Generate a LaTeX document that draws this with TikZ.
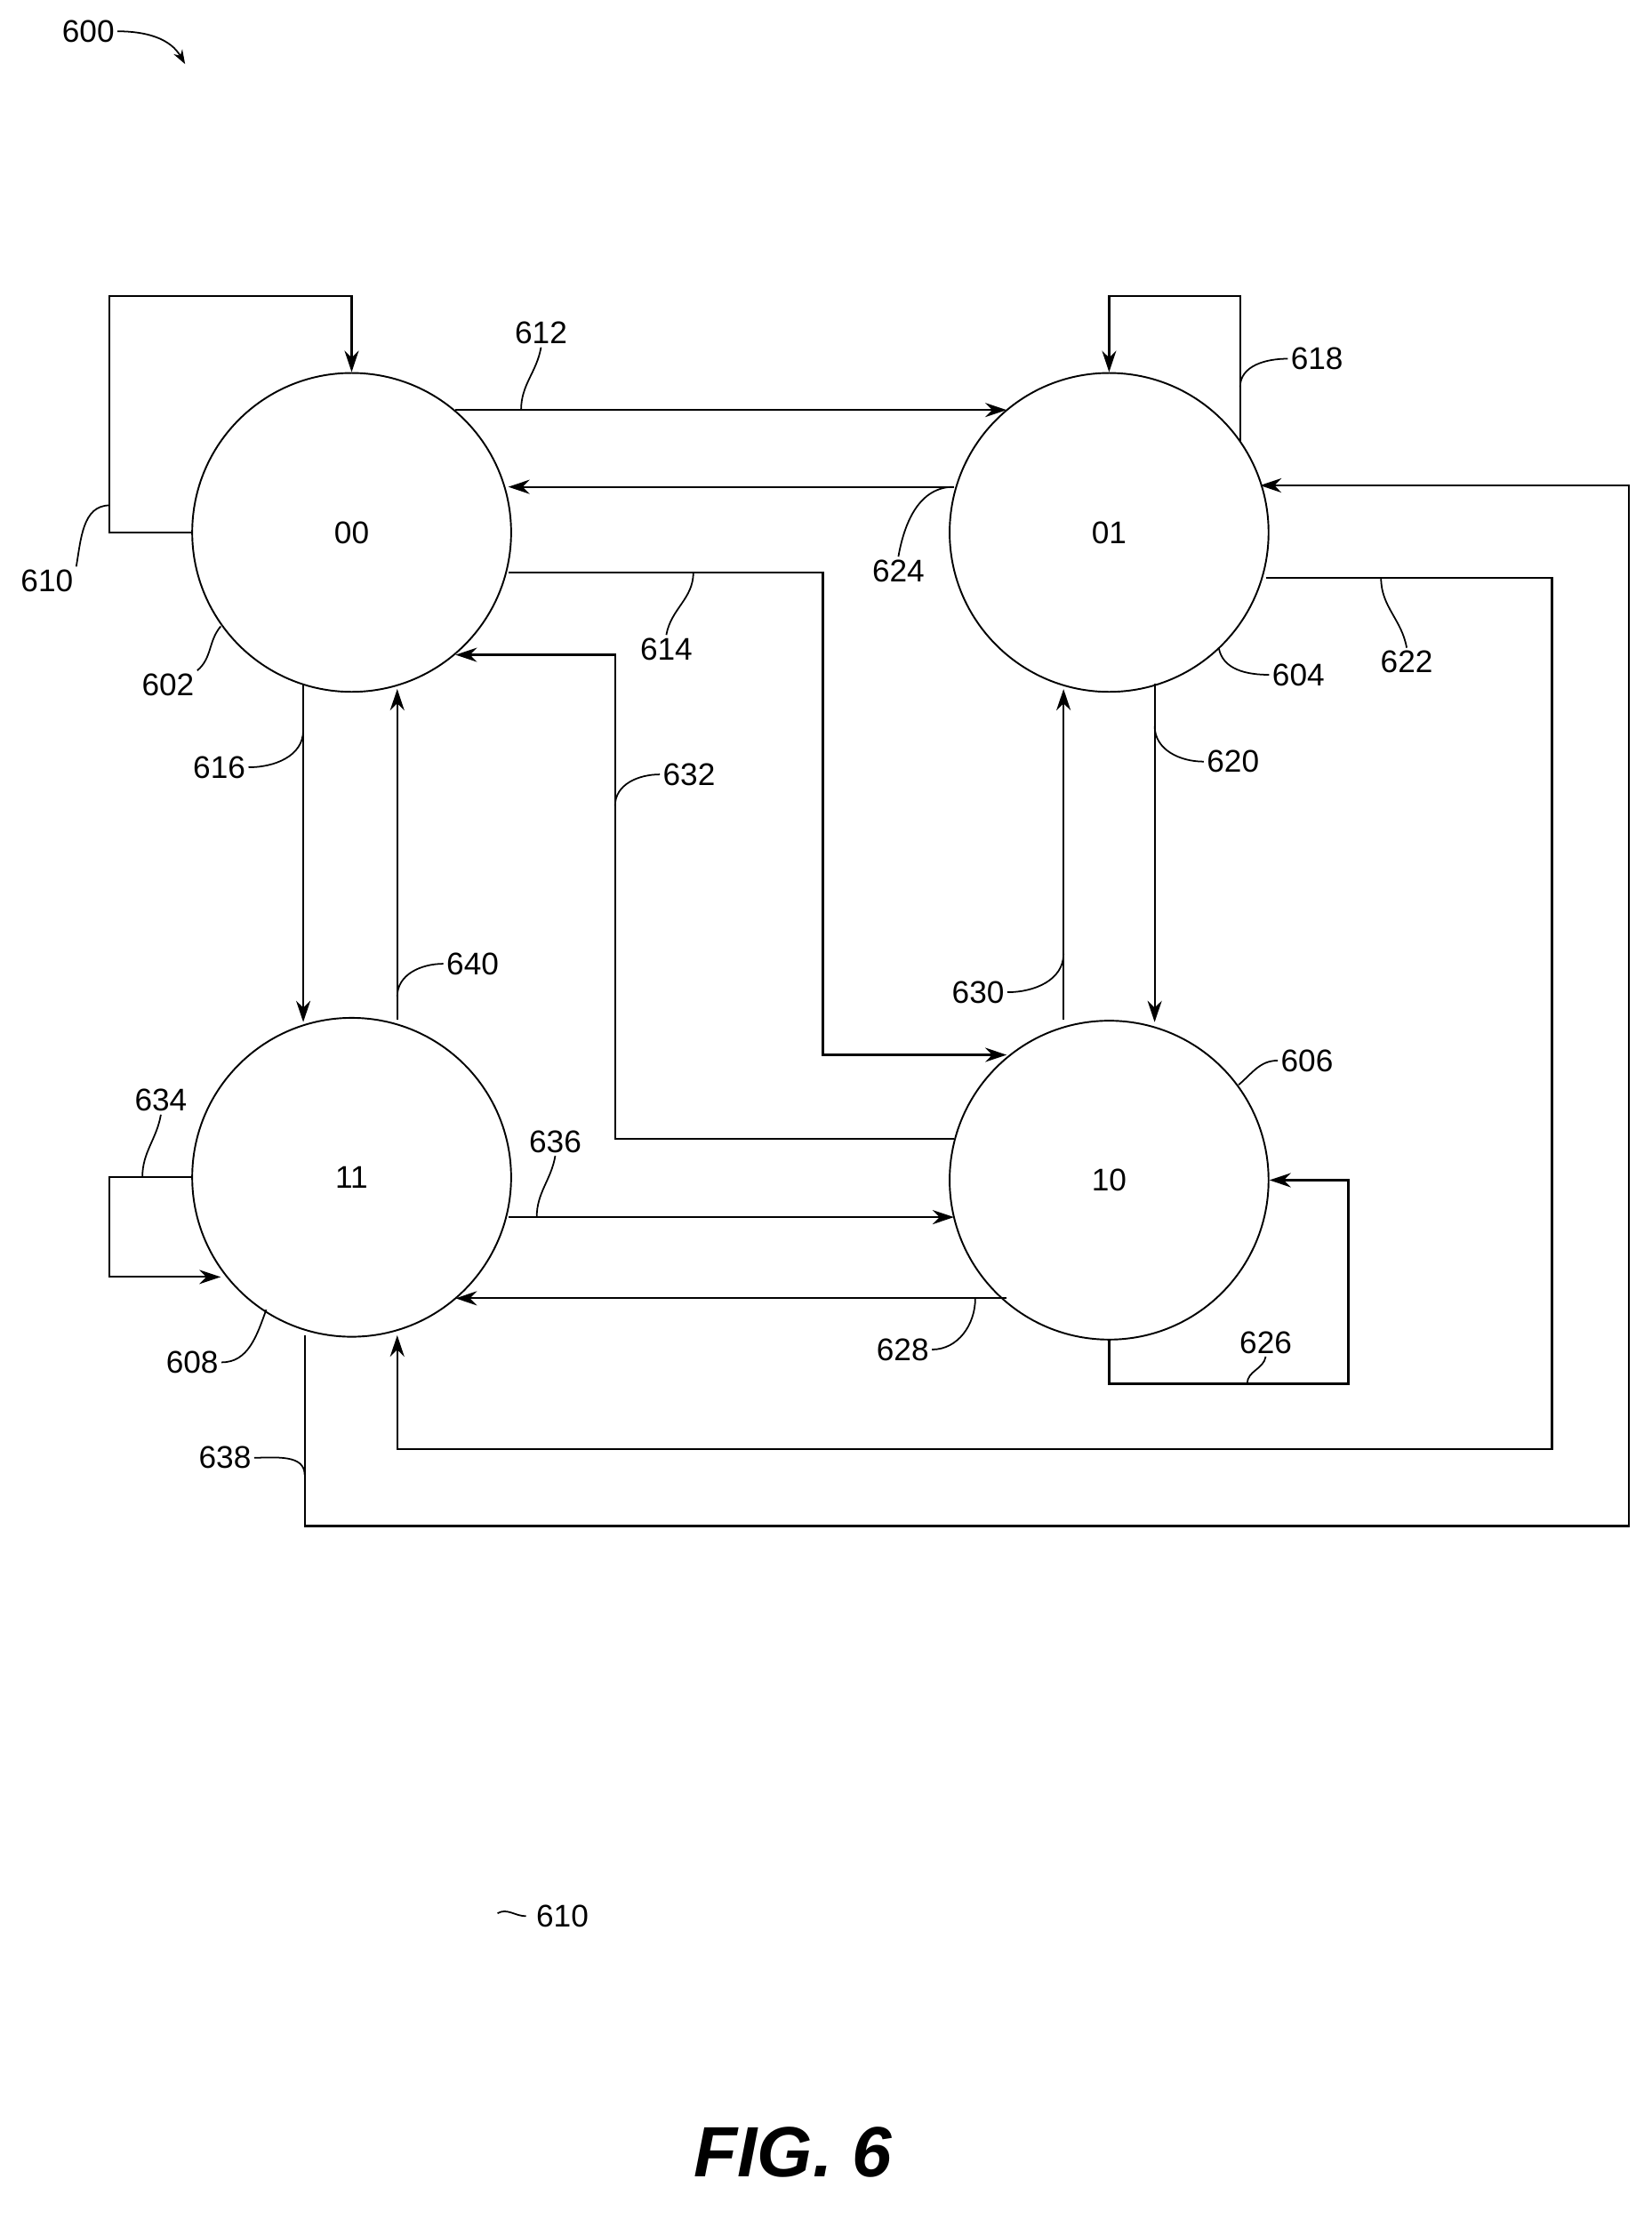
\documentclass[tikz,border=0pt]{standalone}
\usepackage{fontspec}
\setmainfont{Liberation Sans}
\usetikzlibrary{arrows.meta}
\begin{document}
\begin{tikzpicture}[x=1pt,y=-1pt,
      state/.style={circle,draw,line width=1.2pt,minimum size=224pt,inner sep=0pt,font=\fontsize{22}{26}\selectfont},
      link/.style={line width=1.4pt,-{Stealth[length=15pt,width=10pt]}},
      lbl/.style={font=\fontsize{22}{26}\selectfont,inner sep=2pt},
      lead/.style={line width=1.1pt}]
      \useasboundingbox (0,0) rectangle (1160,1570);
      % states
      \node[state] (s00) at (247,374) {00};
      \node[state] (s01) at (779,374) {01};
      \node[state] (s10) at (779,829) {10};
      \node[state] (s11) at (247,827) {11};
      % self loops
      \draw[link] (s00.west) -- (77,374) -- (77,208) -- (247,208) -- (s00.north);
      \draw[link] (871,310) -- (871,208) -- (779,208) -- (s01.north);
      \draw[link] (s10.south) -- (779,972) -- (947,972) -- (947,829) -- (s10.east);
      \draw[link] (s11.west) -- (77,827) -- (77,897) -- (155,897);
      % transitions
      \draw[link] (320,288) -- (707,288);
      \draw[link] (670,342) -- (357,342);
      \draw[link] (357,402) -- (578,402) -- (578,741) -- (707,741);
      \draw[link] (670,800) -- (432,800) -- (432,460) -- (320,460);
      \draw[link] (213,480) -- (213,718);
      \draw[link] (279,716) -- (279,484);
      \draw[link] (811,480) -- (811,718);
      \draw[link] (747,716) -- (747,484);
      \draw[link] (357,855) -- (670,855);
      \draw[link] (707,912) -- (320,912);
      \draw[link] (889,406) -- (1090,406) -- (1090,1018) -- (279,1018) -- (279,938);
      \draw[link] (214,938) -- (214,1072) -- (1144,1072) -- (1144,341) -- (885,341);
      % reference labels
      \node[lbl] (l600) at (62,22) {600};
      \draw[lead,-{Stealth[length=10pt,width=7pt]}] (l600.east) to[out=0,in=120] (130,45);
      \node[lbl] (l612) at (380,234) {612};
      \draw[lead] (l612.south) to[out=-100,in=90] (366,288);
      \node[lbl] (l610) at (33,408) {610};
      \draw[lead] (l610.north east) to[out=80,in=180] (77,355);
      \node[lbl] (l602) at (118,481) {602};
      \draw[lead] (l602.north east) to[out=40,in=230] (155,440);
      \node[lbl] (l616) at (154,539) {616};
      \draw[lead] (l616.east) to[out=0,in=-90] (213,513);
      \node[lbl] (l614) at (468,456) {614};
      \draw[lead] (l614.north) to[out=80,in=-90] (487,402);
      \node[lbl] (l624) at (631,401) {624};
      \draw[lead] (l624.north) to[out=80,in=180] (670,342);
      \node[lbl] (l604) at (912,474) {604};
      \draw[lead] (l604.west) to[out=180,in=-80] (856,455);
      \node[lbl] (l622) at (988,465) {622};
      \draw[lead] (l622.north) to[out=100,in=-90] (970,406);
      \node[lbl] (l620) at (866,535) {620};
      \draw[lead] (l620.west) to[out=180,in=-90] (811,510);
      \node[lbl] (l632) at (484,544) {632};
      \draw[lead] (l632.west) to[out=180,in=90] (432,566);
      \node[lbl] (l640) at (332,677) {640};
      \draw[lead] (l640.west) to[out=180,in=90] (279,700);
      \node[lbl] (l630) at (687,697) {630};
      \draw[lead] (l630.east) to[out=0,in=-90] (747,670);
      \node[lbl] (l606) at (918,745) {606};
      \draw[lead] (l606.west) to[out=180,in=40] (870,762);
      \node[lbl] (l634) at (113,773) {634};
      \draw[lead] (l634.south) to[out=-100,in=90] (100,827);
      \node[lbl] (l636) at (390,802) {636};
      \draw[lead] (l636.south) to[out=-100,in=90] (377,855);
      \node[lbl] (l608) at (135,957) {608};
      \draw[lead] (l608.east) to[out=0,in=-110] (187,920);
      \node[lbl] (l628) at (634,948) {628};
      \draw[lead] (l628.east) to[out=0,in=-90] (685,912);
      \node[lbl] (l626) at (889,943) {626};
      \draw[lead] (l626.south) to[out=-100,in=90] (876,972);
      \node[lbl] (l638) at (158,1024) {638};
      \draw[lead] (l638.east) to[out=0,in=90] (214,1036);
      \node[lbl] (l618) at (925,252) {618};
      \draw[lead] (l618.west) to[out=180,in=90] (871,272);
      \node[lbl] (l610b) at (395,1346) {610};
      \draw[lead] (l610b.west) ++(-25,-2) to[out=30,in=180] ++(20,2);
      \node[font=\fontsize{50}{56}\selectfont\bfseries\itshape] (fig) at (557,1512) {FIG. 6};
\end{tikzpicture}
\end{document}
